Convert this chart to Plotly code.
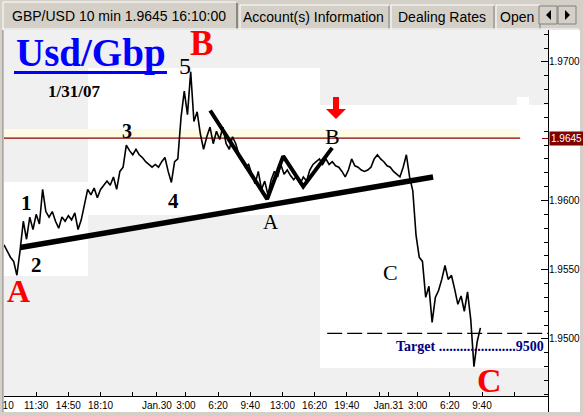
import plotly.graph_objects as go
import pandas as pd

W, H = 583, 416
ML, MR, MT, MB = 4, 35, 30, 20
PW = W - ML - MR
PH = H - MT - MB


def xp(px):
    return (px - ML) / PW


def yp(py):
    return (H - MB - py) / PH


# ---------------- data ----------------
bar_start = "2007-01-29 08:10"
prices = [
    1.9568, 1.9563, 1.9559, 1.9556, 1.9546, 1.9564, 1.9585, 1.9572, 1.9588, 1.9579,
    1.9590, 1.9583, 1.9608, 1.9592, 1.9588, 1.9592, 1.9585, 1.9580, 1.9588, 1.9585,
    1.9589, 1.9586, 1.9591, 1.9579, 1.9586, 1.9597, 1.9608, 1.9604, 1.9609, 1.9602,
    1.9608, 1.9611, 1.9614, 1.9611, 1.9617, 1.9608, 1.9621, 1.9624, 1.9640, 1.9636,
    1.9633, 1.9637, 1.9633, 1.9631, 1.9628, 1.9626, 1.9624, 1.9626, 1.9624, 1.9628,
    1.9631, 1.9621, 1.9613, 1.9628, 1.9630, 1.9660, 1.9679, 1.9662, 1.9693, 1.9657,
    1.9664, 1.9648, 1.9637, 1.9646, 1.9653, 1.9641, 1.9650, 1.9644, 1.9653, 1.9641,
    1.9637, 1.9646, 1.9641, 1.9633, 1.9630, 1.9624, 1.9626, 1.9619, 1.9612, 1.9621,
    1.9608, 1.9614, 1.9604, 1.9615, 1.9621, 1.9617, 1.9626, 1.9619, 1.9622, 1.9618,
    1.9615, 1.9618, 1.9612, 1.9617, 1.9614, 1.9622, 1.9626, 1.9628, 1.9630, 1.9626,
    1.9630, 1.9626, 1.9628, 1.9625, 1.9624, 1.9621, 1.9617, 1.9622, 1.9630, 1.9625,
    1.9624, 1.9622, 1.9621, 1.9622, 1.9624, 1.9630, 1.9633, 1.9630, 1.9628, 1.9625,
    1.9624, 1.9621, 1.9619, 1.9617, 1.9624, 1.9633, 1.9617, 1.9607, 1.9575, 1.9559,
    1.9556, 1.9530, 1.9538, 1.9512, 1.9530, 1.9535, 1.9543, 1.9553, 1.9543, 1.9546,
    1.9536, 1.9525, 1.9531, 1.9520, 1.9534, 1.9514, 1.9480, 1.9498, 1.9508,
]
bar_times = pd.date_range(bar_start, periods=len(prices), freq="20min")

trend_t = ["2007-01-29 09:51", "2007-01-31 04:36"]
trend_p = [1.9566, 1.9617]

wave_t = ["2007-01-30 05:31", "2007-01-30 11:25", "2007-01-30 13:05",
          "2007-01-30 15:09", "2007-01-30 18:09"]
wave_p = [1.9665, 1.9601, 1.9632, 1.9610, 1.9638]

current_price = 1.9645
current_t = ["2007-01-29 08:10", "2007-01-31 13:37"]
target_level = 1.9504
target_t = ["2007-01-30 17:38", "2007-01-31 16:30"]

x_range = ["2007-01-29 08:10", "2007-01-31 16:30"]
y_range = [1.94588, 1.97231]

tick_vals = ["2007-01-29 08:10", "2007-01-29 11:30", "2007-01-29 14:50", "2007-01-29 18:10",
             "2007-01-29 21:30", "2007-01-30 00:00", "2007-01-30 03:00", "2007-01-30 06:20",
             "2007-01-30 09:40", "2007-01-30 13:00", "2007-01-30 16:20", "2007-01-30 19:40",
             "2007-01-30 23:00", "2007-01-31 00:00", "2007-01-31 03:00", "2007-01-31 06:20",
             "2007-01-31 09:40", "2007-01-31 13:00"]
tick_text = ["8:10", "11:30", "14:50", "18:10", "", "Jan.30", "3:00", "6:20", "9:40",
             "13:00", "16:20", "19:40", "", "Jan.31", "3:00", "6:20", "9:40", ""]

y_tick_vals = [1.950, 1.955, 1.960, 1.970]
y_tick_text = ["1.9500", "1.9550", "1.9600", "1.9700"]

# ---------------- figure ----------------
AXFONT = dict(family="Liberation Sans Narrow, Arial Narrow, Liberation Sans, Arial", size=10, color="black")
SERIF = "Liberation Serif, Times New Roman, serif"

fig = go.Figure()
fig.add_trace(go.Scatter(x=current_t, y=[current_price, current_price], mode="lines",
                         line=dict(color="#8b0000", width=1.2), hoverinfo="skip"))
fig.add_trace(go.Scatter(x=target_t, y=[target_level, target_level], mode="lines",
                         line=dict(color="black", width=1.3, dash="15px,5px"), hoverinfo="skip"))
fig.add_trace(go.Scatter(x=bar_times, y=prices, mode="lines",
                         line=dict(color="black", width=1.6)))
fig.add_trace(go.Scatter(x=trend_t, y=trend_p, mode="lines",
                         line=dict(color="black", width=5.5)))
fig.add_trace(go.Scatter(x=wave_t, y=wave_p, mode="lines",
                         line=dict(color="black", width=4)))

shapes = []


def rect(x0, y0, x1, y1, fill, layer="below", line=None):
    shapes.append(dict(type="rect", xref="paper", yref="paper",
                       x0=xp(x0), x1=xp(x1), y0=yp(y1), y1=yp(y0),
                       fillcolor=fill, line=line or dict(width=0), layer=layer))


def seg(x0, y0, x1, y1, color, width=1, layer="above"):
    shapes.append(dict(type="line", xref="paper", yref="paper",
                       x0=xp(x0), x1=xp(x1), y0=yp(y0), y1=yp(y1),
                       line=dict(color=color, width=width), layer=layer))


def poly(pts, fill, layer="above"):
    p = "M " + " L ".join(f"{xp(a):.5f},{yp(b):.5f}" for a, b in pts) + " Z"
    shapes.append(dict(type="path", xref="paper", yref="paper", path=p,
                       fillcolor=fill, line=dict(width=0), layer=layer))


# white patches on the chart background
rect(4, 182, 88, 276, "white")
rect(88, 68, 320, 215, "white")
rect(320, 105, 548, 368, "white")
rect(517, 97, 529, 105, "white")
# cream highlight band
rect(4, 129, 520, 139, "#fdfbe6")

# frame: tab bar, borders
rect(0, 0, 583, 30, "#d4d0c8", layer="above")
rect(0, 30, 3, 416, "#d4d0c8", layer="above")
rect(580, 0, 583, 416, "#d4d0c8", layer="above")
rect(0, 412, 583, 416, "#d4d0c8", layer="above")
seg(3, 30, 3, 412, "#808080")
# selected tab
seg(3, 2, 236, 2, "white")
seg(3, 2, 3, 30, "white")
seg(237, 3, 237, 29, "#404040")
# other tabs
for a, b in [(240, 389), (391, 494), (496, 540)]:
    seg(a, 5, b, 5, "white")
    seg(a, 5, a, 29, "white")
    seg(b, 6, b, 29, "#808080")
seg(3, 29, 579, 29, "white")
# arrow buttons
for a, b in [(539, 557), (558, 576)]:
    rect(a, 6, b, 24, "#d4d0c8", layer="above",
         line=dict(color="#808080", width=1))
poly([(551, 10), (551, 20), (546, 15)], "black")
poly([(565, 10), (565, 20), (570, 15)], "black")
# y axis extension under the date strip
seg(548.5, 396, 548.5, 412, "black")
# red price tick
seg(542, 138.5, 548, 138.5, "#8b0000")
# red arrow
poly([(333, 97), (339, 97), (339, 109), (346, 109), (336, 119), (326, 109), (333, 109)], "#ff0000")
# underline of title
rect(14, 71, 167, 74, "#0000ff", layer="above")

ann = []


def txt(x, y, s, size, color="black", family=SERIF, bold=False, **kw):
    ann.append(dict(xref="paper", yref="paper", x=xp(x), y=yp(y),
                    text=f"<b>{s}</b>" if bold else s, showarrow=False,
                    xanchor="center", yanchor="middle",
                    font=dict(family=family, size=size, color=color), **kw))


TABF = "Liberation Sans, Arial, sans-serif"
txt(119, 16, "GBP/USD 10 min 1.9645 16:10:00", 14, family=TABF)
txt(313, 17, "Account(s) Information", 14, family=TABF)
txt(442, 17, "Dealing Rates", 14, family=TABF)
txt(517, 17, "Open", 14, family=TABF)

txt(90.5, 53, "Usd/Gbp", 39, color="#0000ff", bold=True)
txt(73.5, 92, "1/31/07", 17, bold=True)
txt(201, 43, "B", 35, color="#ff0000", bold=True)
txt(185, 66, "5", 24)
txt(127, 131, "3", 20, bold=True)
txt(26, 203, "1", 21, bold=True)
txt(36.5, 265, "2", 21, bold=True)
txt(173, 201, "4", 21, bold=True)
txt(271, 222, "A", 21)
txt(332, 136, "B", 22)
txt(390, 272, "C", 22)
txt(18, 291, "A", 32, color="#ff0000", bold=True)
txt(489, 380, "C", 34, color="#ff0000", bold=True)
txt(470, 346, "Target ......................9500", 14, color="#000080", bold=True)
ann.append(dict(xref="paper", yref="paper", x=xp(549), y=yp(138.5), xanchor="left",
                yanchor="middle", text="1.9645", showarrow=False,
                font=dict(family=AXFONT["family"], size=10, color="white"),
                bgcolor="#800000", borderpad=1))

fig.update_layout(
    width=W, height=H,
    margin=dict(l=ML, r=MR, t=MT, b=MB, pad=0, autoexpand=False),
    paper_bgcolor="white", plot_bgcolor="#f0f0f0",
    showlegend=False,
    shapes=shapes, annotations=ann,
    xaxis=dict(type="date", range=x_range, tickmode="array", tickvals=tick_vals,
               ticktext=tick_text, ticks="inside", ticklen=4, tickcolor="black",
               tickangle=0, automargin=False,
               showline=True, linecolor="black", linewidth=1, showgrid=False,
               zeroline=False, tickfont=AXFONT, ticklabeloverflow="allow",
               fixedrange=True),
    yaxis=dict(range=y_range, side="right", tickmode="array", tickvals=y_tick_vals,
               ticktext=y_tick_text, automargin=False, ticklabelstandoff=-2,
               ticks="inside", ticklen=7, tickcolor="black",
               minor=dict(dtick=0.001, tick0=1.95, ticks="inside", ticklen=4, tickcolor="black"),
               showline=True, linecolor="black", linewidth=1, showgrid=False,
               zeroline=False, tickfont=AXFONT, ticklabeloverflow="allow",
               fixedrange=True),
)

fig.write_html("out.html")
